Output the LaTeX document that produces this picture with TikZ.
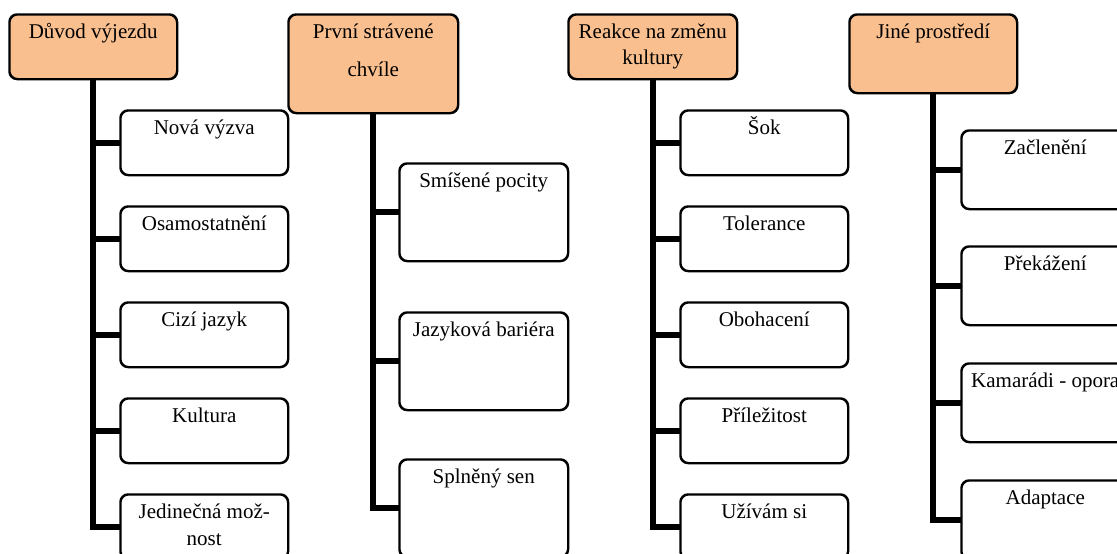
\documentclass[tikz,border=0pt]{standalone}
\usepackage{fontspec}
\setmainfont{Liberation Serif}
\definecolor{headfill}{HTML}{FABF8F}
\begin{document}
\begin{tikzpicture}[x=1pt,y=-1pt,
  box/.style={draw=black, line width=1.5pt, rounded corners=8pt, anchor=north west,
    inner sep=0pt, minimum width=167pt, fill=white},
  headbox/.style={box, fill=headfill},
  lbl/.style={anchor=north, inner sep=0pt, yshift=-5.6pt, align=center,
    font=\fontsize{21}{27}\selectfont},
  conn/.style={line width=6pt, line join=miter}]
\useasboundingbox (0,0) rectangle (1117,554);

% ---------- column 1
\node[headbox, minimum width=167pt, minimum height=64pt] (h1) at (9,14) {};
\foreach \i/\t in {1/110,2/206,3/302,4/398,5/494}
  \node[box, minimum height=64pt] (a\i) at (120,\t) {};
% ---------- column 2
\node[headbox, minimum width=169pt, minimum height=98pt] (h2) at (288,14) {};
\foreach \i/\t in {1/163,2/312,3/459}
  \node[box, minimum width=168pt, minimum height=97pt] (b\i) at (399,\t) {};
% ---------- column 3
\node[headbox, minimum width=168pt, minimum height=64pt] (h3) at (568,14) {};
\foreach \i/\t in {1/110,2/206,3/302,4/398,5/494}
  \node[box, minimum height=64pt] (c\i) at (680,\t) {};
% ---------- column 4
\node[headbox, minimum width=167pt, minimum height=78pt] (h4) at (849,14) {};
\foreach \i/\t in {1/130,2/246,3/363,4/480}
  \node[box, minimum height=78pt] (d\i) at (961,\t) {};

% ---------- connectors (behind boxes)
\begin{scope}[on background layer/.style={}]
\end{scope}
\draw[conn] (h1.south) |- (a5.west);
\foreach \i in {1,2,3,4} \draw[conn] (a\i.west) -- (a\i.west -| h1.south);
\draw[conn] (h2.south) |- (b3.west);
\foreach \i in {1,2} \draw[conn] (b\i.west) -- (b\i.west -| h2.south);
\draw[conn] (h3.south) |- (c5.west);
\foreach \i in {1,2,3,4} \draw[conn] (c\i.west) -- (c\i.west -| h3.south);
\draw[conn] (h4.south) |- (d4.west);
\foreach \i in {1,2,3} \draw[conn] (d\i.west) -- (d\i.west -| h4.south);

% redraw borders over connector ends
\foreach \n in {h1,h2,h3,h4,a1,a2,a3,a4,a5,b1,b2,b3,c1,c2,c3,c4,c5,d1,d2,d3,d4}
  \draw[line width=1.5pt, rounded corners=8pt] (\n.north west) rectangle (\n.south east);

% ---------- texts
\node[lbl] (th1) at (h1.north) {\strut Důvod výjezdu};
\node[lbl] (ta1) at (a1.north) {\strut Nová výzva};
\node[lbl] (ta2) at (a2.north) {\strut Osamostatnění};
\node[lbl] (ta3) at (a3.north) {\strut Cizí jazyk};
\node[lbl] (ta4) at (a4.north) {\strut Kultura};
\node[lbl] (ta5) at (a5.north) {\strut Jedinečná mož-\\\strut nost};

\node[lbl] (th2) at (h2.north) {\strut První strávené\\[11pt]\strut chvíle};
\node[lbl] (tb1) at (b1.north) {\strut Smíšené pocity};
\node[lbl] (tb2) at (b2.north) {\strut Jazyková bariéra};
\node[lbl] (tb3) at (b3.north) {\strut Splněný sen};

\node[lbl] (th3) at (h3.north) {\strut Reakce na změnu\\[-1pt]\strut kultury};
\node[lbl] (tc1) at (c1.north) {\strut Šok};
\node[lbl] (tc2) at (c2.north) {\strut Tolerance};
\node[lbl] (tc3) at (c3.north) {\strut Obohacení};
\node[lbl] (tc4) at (c4.north) {\strut Příležitost};
\node[lbl] (tc5) at (c5.north) {\strut Užívám si};

\node[lbl] (th4) at (h4.north) {\strut Jiné prostředí};
\node[lbl] (td1) at (d1.north) {\strut Začlenění};
\node[lbl] (td2) at (d2.north) {\strut Překážení};
\node[lbl] (td3) at (d3.north) {\strut Kamarádi - opora};
\node[lbl] (td4) at (d4.north) {\strut Adaptace};
\end{tikzpicture}
\end{document}
